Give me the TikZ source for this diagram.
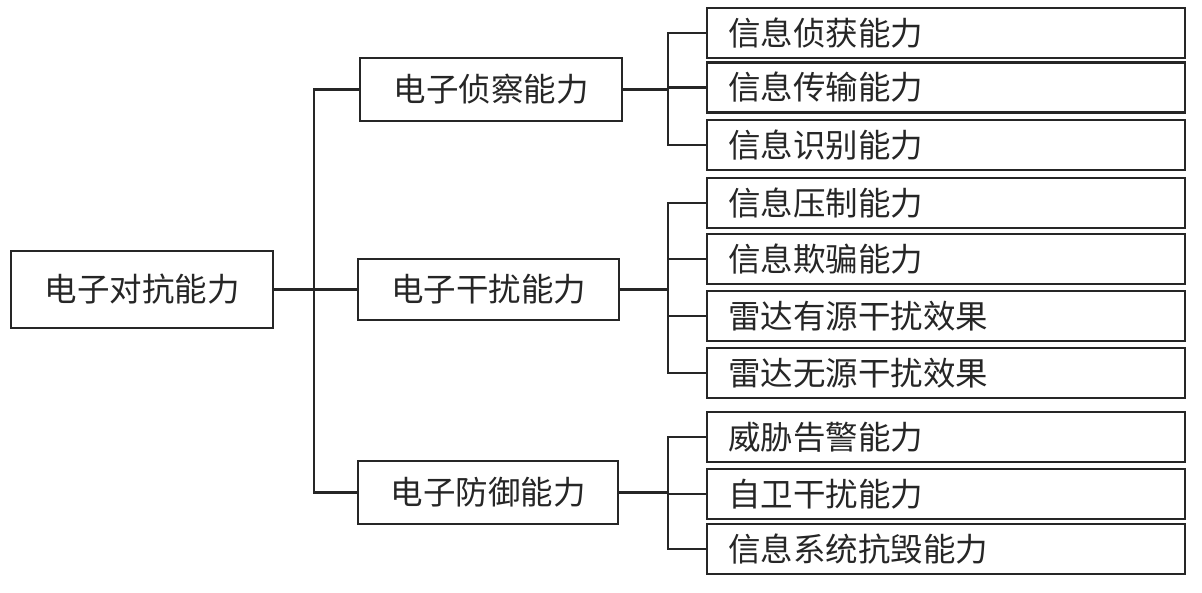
\documentclass[tikz,border=0pt]{standalone}
\usepackage{fontspec}
\newfontfamily\cjk{Noto Sans CJK SC}
\definecolor{ink}{HTML}{262626}
\begin{document}
\begin{tikzpicture}[x=1pt,y=-1pt,
  every node/.style={font=\cjk\fontsize{32.5}{34}\selectfont, text=ink},
  box/.style={draw=ink, line width=2.1pt, fill=white, inner sep=0pt, align=center},
  leaf/.style={draw=ink, line width=2.1pt, fill=white, minimum height=50pt, inner ysep=0pt, inner xsep=21pt, text width=436pt, align=left},
  link/.style={draw=ink, line width=2.1pt}]
\useasboundingbox (0,0) rectangle (1202,592);
\node[box, minimum width=262pt, minimum height=77pt] (root) at (142,289.5) {电子对抗能力};
\node[box, minimum width=262pt, minimum height=63pt] (m1) at (491,89.5) {电子侦察能力};
\node[box, minimum width=261pt, minimum height=61pt] (m2) at (488.5,289.5) {电子干扰能力};
\node[box, minimum width=260pt, minimum height=63pt] (m3) at (488,492.5) {电子防御能力};
\node[leaf] (r1) at (946,33) {信息侦获能力};
\node[leaf] (r2) at (946,87.5) {信息传输能力};
\node[leaf] (r3) at (946,145) {信息识别能力};
\node[leaf] (r4) at (946,203) {信息压制能力};
\node[leaf] (r5) at (946,259) {信息欺骗能力};
\node[leaf] (r6) at (946,316) {雷达有源干扰效果};
\node[leaf] (r7) at (946,373) {雷达无源干扰效果};
\node[leaf] (r8) at (946,437) {威胁告警能力};
\node[leaf] (r9) at (946,494) {自卫干扰能力};
\node[leaf] (r10) at (946,549) {信息系统抗毁能力};
\coordinate (t) at (314,0);
\coordinate (b) at (668,0);
\draw[link] (root.east) -- (m2.west);
\draw[link] (m1.west) -- (m1.west -| t) -- (m3.west -| t) -- (m3.west);
\draw[link] (m1.east) -- (m1.east -| b);
\draw[link] (r1.west) -- (r1.west -| b) -- (r3.west -| b) -- (r3.west);
\draw[link] (r2.west) -- (r2.west -| b);
\draw[link] (m2.east) -- (m2.east -| b);
\draw[link] (r4.west) -- (r4.west -| b) -- (r7.west -| b) -- (r7.west);
\draw[link] (r5.west) -- (r5.west -| b);
\draw[link] (r6.west) -- (r6.west -| b);
\draw[link] (m3.east) -- (m3.east -| b);
\draw[link] (r8.west) -- (r8.west -| b) -- (r10.west -| b) -- (r10.west);
\draw[link] (r9.west) -- (r9.west -| b);
\end{tikzpicture}
\end{document}
